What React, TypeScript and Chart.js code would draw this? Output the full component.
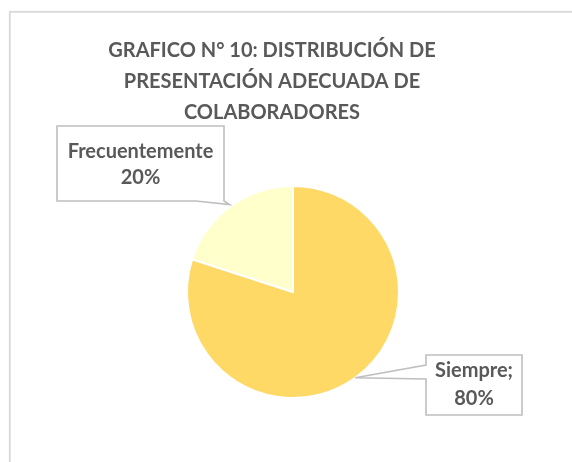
import { useEffect, useRef } from "react";
import { Chart, ArcElement, PieController } from "chart.js";

Chart.register(ArcElement, PieController);

const categories = ["Siempre", "Frecuentemente"];
const values = [80, 20];
const sliceColors = ["#FFD966", "#FFFFCC"];
const titleLines = ["GRAFICO N° 10: DISTRIBUCIÓN DE", "PRESENTACIÓN ADECUADA DE", "COLABORADORES"];
const labelLines = [["Siempre;", "80%"], ["Frecuentemente", "20%"]];

const FONT = "Lato, 'Open Sans', sans-serif";
const TEXT_COLOR = "#595959";

// callout geometry relative to the pie centre
const calloutLayout = [
  { dx: 133, dy: 63, w: 96, h: 60, side: "left", a: 10, b: 24, tipGap: 0, lineGap: 28, shift: 0 },
  { dx: -236, dy: -166, w: 167, h: 75, side: "bottom", a: 139, b: 167, tipGap: 2, lineGap: 26, shift: 1.5 },
];

const framePlugin = {
  id: "frame",
  beforeDraw(chart: any) {
    const ctx = chart.ctx;
    ctx.save();
    ctx.fillStyle = "#ffffff";
    ctx.fillRect(0, 0, chart.width, chart.height);
    ctx.strokeStyle = "#d9d9d9";
    ctx.lineWidth = 1.8;
    ctx.strokeRect(9.8, 11.8, chart.width + 20, chart.height + 20);
    ctx.restore();
  },
};

const titlePlugin = {
  id: "bigTitle",
  afterDraw(chart: any) {
    const ctx = chart.ctx;
    ctx.save();
    ctx.font = `bold 20px ${FONT}`;
    ctx.fillStyle = TEXT_COLOR;
    ctx.textAlign = "center";
    ctx.textBaseline = "middle";
    titleLines.forEach((t, i) => ctx.fillText(t, 272, 51 + i * 30.7));
    ctx.restore();
  },
};

const calloutPlugin = {
  id: "callouts",
  afterDatasetsDraw(chart: any) {
    const ctx = chart.ctx;
    const meta = chart.getDatasetMeta(0);
    meta.data.forEach((arc: any, i: number) => {
      const p = arc.getProps(["x", "y", "startAngle", "endAngle", "outerRadius"], true);
      const mid = (p.startAngle + p.endAngle) / 2;
      const L = calloutLayout[i];
      const tr = p.outerRadius + L.tipGap;
      const tx = p.x + Math.cos(mid) * tr;
      const ty = p.y + Math.sin(mid) * tr;
      const bx = p.x + L.dx;
      const by = p.y + L.dy;
      ctx.save();
      ctx.beginPath();
      if (L.side === "left") {
        ctx.moveTo(bx, by);
        ctx.lineTo(bx + L.w, by);
        ctx.lineTo(bx + L.w, by + L.h);
        ctx.lineTo(bx, by + L.h);
        ctx.lineTo(bx, by + L.b);
        ctx.lineTo(tx, ty);
        ctx.lineTo(bx, by + L.a);
        ctx.closePath();
      } else {
        ctx.moveTo(bx, by);
        ctx.lineTo(bx + L.w, by);
        ctx.lineTo(bx + L.w, by + L.h);
        ctx.lineTo(tx, ty);
        ctx.lineTo(bx + L.a, by + L.h);
        ctx.lineTo(bx, by + L.h);
        ctx.closePath();
      }
      ctx.fillStyle = "#ffffff";
      ctx.fill();
      ctx.strokeStyle = "#bfbfbf";
      ctx.lineWidth = 1.6;
      ctx.stroke();
      ctx.font = `bold 20px ${FONT}`;
      ctx.fillStyle = TEXT_COLOR;
      ctx.textAlign = "center";
      ctx.textBaseline = "middle";
      const lines = labelLines[i];
      const cx = bx + L.w / 2;
      const cy = by + L.h / 2 + L.shift;
      lines.forEach((t, j) => {
        ctx.fillText(t, cx, cy + (j - (lines.length - 1) / 2) * L.lineGap);
      });
      ctx.restore();
    });
  },
};

export default function App() {
  const ref = useRef<HTMLCanvasElement | null>(null);
  useEffect(() => {
    if (!ref.current) return;
    const chart = new Chart(ref.current, {
      type: "pie",
      data: {
        labels: categories,
        datasets: [
          {
            data: values,
            backgroundColor: sliceColors,
            borderColor: "#ffffff",
            borderWidth: 2,
          },
        ],
      },
      options: {
        responsive: false,
        animation: false,
        layout: { padding: { left: 186, right: 172, top: 185, bottom: 63 } },
        plugins: {
          legend: { display: false },
          tooltip: { enabled: false },
          title: { display: false },
        },
      },
      plugins: [framePlugin, titlePlugin, calloutPlugin],
    });
    return () => chart.destroy();
  }, []);
  return (
    <div style={{ position: "absolute", left: 0, top: 0, width: 572, height: 462 }}>
      <canvas ref={ref} width={572} height={462} />
    </div>
  );
}
